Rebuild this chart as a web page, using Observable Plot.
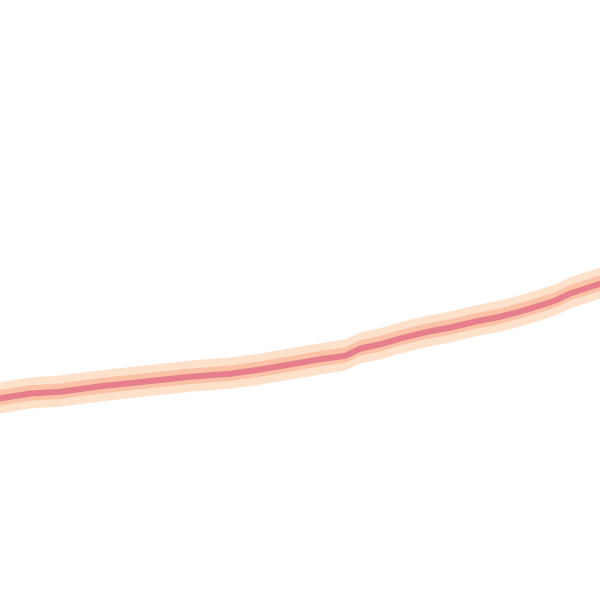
<!DOCTYPE html>
<html>
<head>
<meta charset="utf-8">
<script src="https://cdn.jsdelivr.net/npm/d3@7"></script>
<script src="https://cdn.jsdelivr.net/npm/@observablehq/plot@0.6"></script>
<style>
  html, body { margin: 0; padding: 0; background: #fff; }
  #chart svg { display: block; }
</style>
</head>
<body>
<div id="chart"></div>
<script>
const xs = [0, 5, 10, 16.7, 24.2, 31.7, 38.3, 43.3, 47.5, 53.3, 57.5, 60, 63.3, 66.7, 70.8, 75, 79.2, 83.3, 86.7, 90, 92.5, 95, 97.5, 100];
const ys = [33.7, 34.5, 34.8, 35.7, 36.5, 37.3, 37.8, 38.5, 39.2, 40.2, 40.8, 42.0, 42.7, 43.7, 44.7, 45.5, 46.5, 47.3, 48.2, 49.2, 50.0, 51.2, 52.0, 52.8];
const outerBand = 2.6;
const innerBand = 1.3;

const data = xs.map((x, i) => ({x, y: ys[i]}));

const plot = Plot.plot({
  width: 600,
  height: 600,
  margin: 0,
  x: {domain: [0, 100], axis: null},
  y: {domain: [0, 100], axis: null},
  marks: [
    Plot.areaY(data, {x: "x", y1: d => d.y - outerBand, y2: d => d.y + outerBand, fill: "#fee1cb"}),
    Plot.areaY(data, {x: "x", y1: d => d.y - innerBand, y2: d => d.y + innerBand, fill: "#fcc2a6"}),
    Plot.line(data, {x: "x", y: "y", stroke: "#e67f8b", strokeWidth: 6})
  ]
});
document.getElementById("chart").appendChild(plot);
</script>
</body>
</html>
